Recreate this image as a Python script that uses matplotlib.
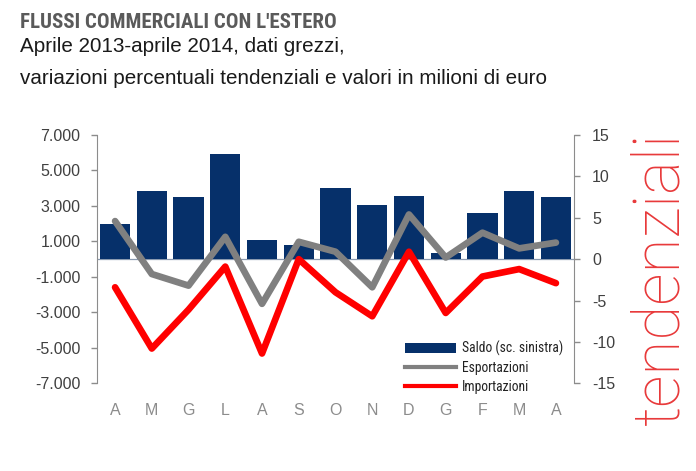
import matplotlib
matplotlib.use("Agg")
import matplotlib.pyplot as plt
from matplotlib.patches import Patch
from matplotlib.lines import Line2D

months = ["A", "M", "G", "L", "A", "S", "O", "N", "D", "G", "F", "M", "A"]
saldo = [1970, 3860, 3520, 5940, 1060, 820, 4030, 3050, 3580, 330, 2620, 3860, 3490]
esportazioni = [4.6, -1.8, -3.2, 2.7, -5.4, 2.1, 0.9, -3.4, 5.4, 0.2, 3.2, 1.3, 2.0]
importazioni = [-3.4, -10.8, -6.1, -0.9, -11.4, 0.0, -4.0, -6.9, 0.9, -6.5, -2.1, -1.2, -2.9]
left_ticks = [-7000, -5000, -3000, -1000, 1000, 3000, 5000, 7000]
left_labels = ["-7.000", "-5.000", "-3.000", "-1.000", "1.000", "3.000", "5.000", "7.000"]
right_ticks = [-15, -10, -5, 0, 5, 10, 15]

NARROW = ["Liberation Sans Narrow", "Arial Narrow", "Roboto Condensed", "Open Sans Condensed",
          "Noto Sans Condensed", "Roboto", "DejaVu Sans"]
SANS = ["Liberation Sans", "DejaVu Sans"]
W, H = 696, 471
fig = plt.figure(figsize=(W / 100, H / 100), dpi=100)
fig.patch.set_facecolor("white")

ax = fig.add_axes([96.7 / W, 1 - 383.3 / H, (574.3 - 96.7) / W, (383.3 - 135) / H])
x = list(range(len(months)))
ax.bar(x, saldo, width=0.82, color="#06306a", zorder=2)
ax.axhline(0, color="#8a9ab0", lw=0.9, zorder=1)
ax.set_xlim(-0.5, 12.5)
ax.set_ylim(-7000, 7000)
ax.set_yticks(left_ticks)
ax.set_yticklabels(left_labels, family=SANS, fontsize=11.5, color="#404040")
ax.set_xticks(x)
ax.set_xticklabels(months, family=SANS, fontsize=11.5, color="#8c8c8c")
ax.tick_params(axis="x", length=0, pad=14)
ax.tick_params(axis="y", length=4.3, width=1, color="#8c8c8c", pad=7.5)
for s in ["top", "bottom", "right"]:
    ax.spines[s].set_visible(False)
ax.spines["left"].set_color("#8c8c8c")

ax2 = ax.twinx()
ax2.plot(x, esportazioni, color="#808080", lw=4.8, solid_capstyle="round", solid_joinstyle="round", zorder=3)
ax2.plot(x, importazioni, color="#ff0000", lw=4.8, solid_capstyle="round", solid_joinstyle="round", zorder=3)
ax2.set_ylim(-15, 15)
ax2.set_yticks(right_ticks)
ax2.set_yticklabels([str(t) for t in right_ticks], family=SANS, fontsize=11.5, color="#404040")
ax2.tick_params(axis="y", length=4.3, width=1, color="#8c8c8c", pad=8.5)
for s in ["top", "bottom", "left"]:
    ax2.spines[s].set_visible(False)
ax2.spines["right"].set_color("#8c8c8c")

handles = [Patch(facecolor="#06306a", edgecolor="none"),
           Line2D([], [], color="#808080", lw=3),
           Line2D([], [], color="#ff0000", lw=3)]
labels = ["Saldo (sc. sinistra)", "Esportazioni", "Importazioni"]
ax2.legend(handles, labels, loc="upper left", bbox_to_anchor=(398 / W, 1 - 334 / H),
           bbox_transform=fig.transFigure, frameon=False, borderpad=0,
           handlelength=3.75, handletextpad=0.45, labelspacing=0.35,
           prop={"family": NARROW, "size": 9.8}, labelcolor="#222222")

fig.text(20 / W, 1 - 28.3 / H, "FLUSSI COMMERCIALI CON L'ESTERO", family=NARROW,
         fontsize=15, fontweight="bold", color="#5a5a5a", va="baseline", ha="left")
fig.text(20 / W, 1 - 52 / H, "Aprile 2013-aprile 2014, dati grezzi,", family=SANS,
         fontsize=14.9, color="#1a1a1a", va="baseline", ha="left")
fig.text(20 / W, 1 - 84.5 / H, "variazioni percentuali tendenziali e valori in milioni di euro", family=SANS,
         fontsize=14.9, color="#1a1a1a", va="baseline", ha="left")
fig.text(678 / W, 1 - 278 / H, "tendenziali", family=["Roboto", "DejaVu Sans"], fontweight=100,
         fontsize=46, color="#e8393a", rotation=90, rotation_mode="anchor",
         ha="center", va="baseline")

fig.savefig("out.png", dpi=100)
